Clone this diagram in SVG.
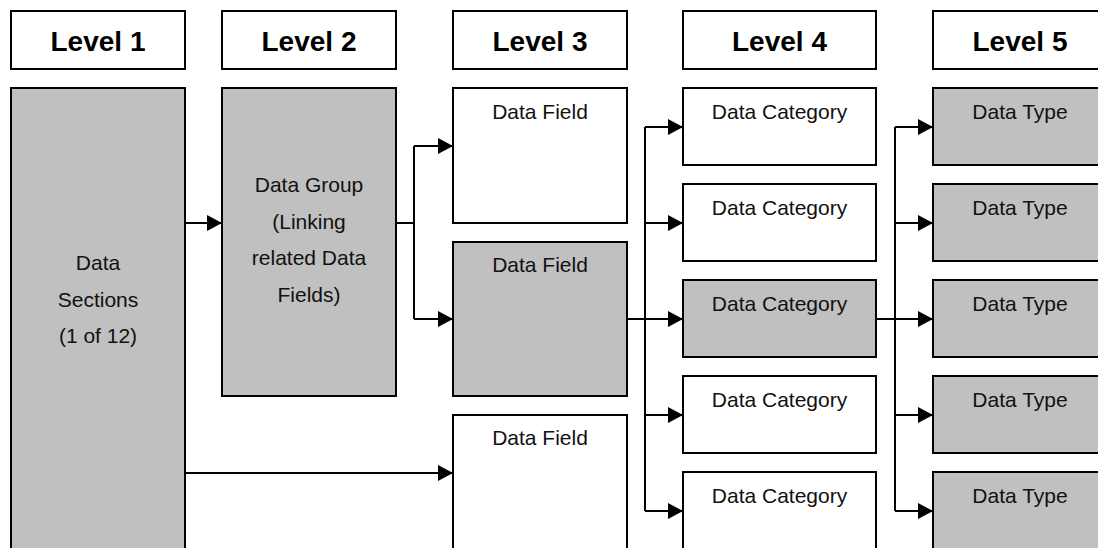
<svg xmlns="http://www.w3.org/2000/svg" width="1098" height="548" viewBox="0 0 1098 548">
  <style>
    .box { stroke: #000; stroke-width: 2; }
    .white { fill: #fff; }
    .grey { fill: #c0c0c0; }
    .head { font-family: "Liberation Sans", Arial, sans-serif; font-size: 28px; font-weight: bold; fill: #000; text-anchor: middle; }
    .lbl { font-family: "Liberation Sans", Arial, sans-serif; font-size: 21px; fill: #111; text-anchor: middle; }
    .wire { fill: none; stroke: #000; stroke-width: 2; }
  </style>
  <defs>
    <marker id="arrow" markerUnits="userSpaceOnUse" markerWidth="16" markerHeight="16" refX="15" refY="8" orient="auto">
      <path d="M0,0 L15,8 L0,16 Z" fill="#000"/>
    </marker>
  </defs>
  <rect width="1098" height="548" fill="#fff"/>

  <!-- column headings -->
  <g id="level1-head"><rect class="box white" x="11" y="11" width="174" height="58"/><text class="head" x="98" y="51">Level 1</text></g>
  <g id="level2-head"><rect class="box white" x="222" y="11" width="174" height="58"/><text class="head" x="309" y="51">Level 2</text></g>
  <g id="level3-head"><rect class="box white" x="453" y="11" width="174" height="58"/><text class="head" x="540" y="51">Level 3</text></g>
  <g id="level4-head"><rect class="box white" x="683" y="11" width="193" height="58"/><text class="head" x="779.5" y="51">Level 4</text></g>
  <g id="level5-head"><rect class="box white" x="933" y="11" width="174" height="58"/><text class="head" x="1020" y="51">Level 5</text></g>

  <!-- level 1 -->
  <g id="data-sections">
    <rect class="box grey" x="11" y="88" width="174" height="480"/>
    <text class="lbl" x="98" y="270">Data</text>
    <text class="lbl" x="98" y="306.5">Sections</text>
    <text class="lbl" x="98" y="343">(1 of 12)</text>
  </g>

  <!-- level 2 -->
  <g id="data-group">
    <rect class="box grey" x="222" y="88" width="174" height="308"/>
    <text class="lbl" x="309" y="192">Data Group</text>
    <text class="lbl" x="309" y="228.5">(Linking</text>
    <text class="lbl" x="309" y="265">related Data</text>
    <text class="lbl" x="309" y="301.5">Fields)</text>
  </g>

  <!-- level 3 -->
  <g id="data-field-1"><rect class="box white" x="453" y="88" width="174" height="135"/><text class="lbl" x="540" y="119">Data Field</text></g>
  <g id="data-field-2"><rect class="box grey" x="453" y="242" width="174" height="154"/><text class="lbl" x="540" y="272">Data Field</text></g>
  <g id="data-field-3"><rect class="box white" x="453" y="415" width="174" height="160"/><text class="lbl" x="540" y="445">Data Field</text></g>

  <!-- level 4 -->
  <g id="data-category-1"><rect class="box white" x="683" y="88" width="193" height="77"/><text class="lbl" x="779.5" y="119">Data Category</text></g>
  <g id="data-category-2"><rect class="box white" x="683" y="184" width="193" height="77"/><text class="lbl" x="779.5" y="215">Data Category</text></g>
  <g id="data-category-3"><rect class="box grey" x="683" y="280" width="193" height="77"/><text class="lbl" x="779.5" y="311">Data Category</text></g>
  <g id="data-category-4"><rect class="box white" x="683" y="376" width="193" height="77"/><text class="lbl" x="779.5" y="407">Data Category</text></g>
  <g id="data-category-5"><rect class="box white" x="683" y="472" width="193" height="90"/><text class="lbl" x="779.5" y="503">Data Category</text></g>

  <!-- level 5 -->
  <g id="data-type-1"><rect class="box grey" x="933" y="88" width="174" height="77"/><text class="lbl" x="1020" y="119">Data Type</text></g>
  <g id="data-type-2"><rect class="box grey" x="933" y="184" width="174" height="77"/><text class="lbl" x="1020" y="215">Data Type</text></g>
  <g id="data-type-3"><rect class="box grey" x="933" y="280" width="174" height="77"/><text class="lbl" x="1020" y="311">Data Type</text></g>
  <g id="data-type-4"><rect class="box grey" x="933" y="376" width="174" height="77"/><text class="lbl" x="1020" y="407">Data Type</text></g>
  <g id="data-type-5"><rect class="box grey" x="933" y="472" width="174" height="90"/><text class="lbl" x="1020" y="503">Data Type</text></g>

  <!-- connectors -->
  <g id="connectors">
    <path class="wire" d="M185,223 H222" marker-end="url(#arrow)"/>
    <path class="wire" d="M185,473 H453" marker-end="url(#arrow)"/>

    <path class="wire" d="M396,223 H414"/>
    <path class="wire" d="M414,146 V319"/>
    <path class="wire" d="M414,146 H453" marker-end="url(#arrow)"/>
    <path class="wire" d="M414,319 H453" marker-end="url(#arrow)"/>

    <path class="wire" d="M627,319 H683" marker-end="url(#arrow)"/>
    <path class="wire" d="M645,127 V511"/>
    <path class="wire" d="M645,127 H683" marker-end="url(#arrow)"/>
    <path class="wire" d="M645,223 H683" marker-end="url(#arrow)"/>
    <path class="wire" d="M645,415 H683" marker-end="url(#arrow)"/>
    <path class="wire" d="M645,511 H683" marker-end="url(#arrow)"/>

    <path class="wire" d="M876,319 H933" marker-end="url(#arrow)"/>
    <path class="wire" d="M895,127 V511"/>
    <path class="wire" d="M895,127 H933" marker-end="url(#arrow)"/>
    <path class="wire" d="M895,223 H933" marker-end="url(#arrow)"/>
    <path class="wire" d="M895,415 H933" marker-end="url(#arrow)"/>
    <path class="wire" d="M895,511 H933" marker-end="url(#arrow)"/>
  </g>
</svg>
